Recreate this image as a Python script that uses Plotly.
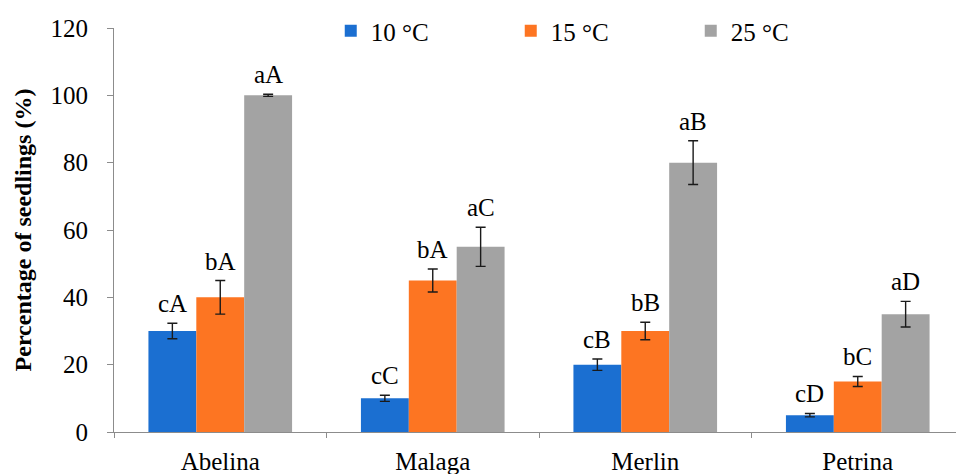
import plotly.graph_objects as go

cultivars = ["Abelina", "Malaga", "Merlin", "Petrina"]
series_names = ["10 °C", "15 °C", "25 °C"]
values_10 = [30, 10, 20, 5]
values_15 = [40, 45, 30, 15]
values_25 = [100, 55, 80, 35]
errors_10 = [2.3, 0.9, 1.7, 0.5]
errors_15 = [5.0, 3.4, 2.6, 1.5]
errors_25 = [0.3, 5.8, 6.5, 3.8]
labels_10 = ["cA", "cC", "cB", "cD"]
labels_15 = ["bA", "bA", "bB", "bC"]
labels_25 = ["aA", "aC", "aB", "aD"]
y_ticks = [0, 20, 40, 60, 80, 100, 120]

colors = ["#1b6fd1", "#fd7522", "#a3a3a3"]
FONT = "Liberation Serif, Times New Roman, serif"
FS = 25
BARGAP = 0.324

all_vals = [values_10, values_15, values_25]
all_errs = [errors_10, errors_15, errors_25]
all_labels = [labels_10, labels_15, labels_25]

fig = go.Figure()
for name, vals, errs, col in zip(series_names, all_vals, all_errs, colors):
    fig.add_trace(go.Bar(
        x=cultivars, y=vals, name=name,
        marker=dict(color=col, line=dict(width=0)),
        error_y=dict(type="data", array=errs, visible=True,
                     color="#1a1a1a", thickness=1.4, width=5),
    ))

bw = (1 - BARGAP) / 3
for k, (vals, errs, labs) in enumerate(zip(all_vals, all_errs, all_labels)):
    for i, (v, e, t) in enumerate(zip(vals, errs, labs)):
        fig.add_annotation(
            x=i + (k - 1) * bw, y=v + e, xref="x", yref="y",
            text=t, showarrow=False, yanchor="bottom", yshift=4,
            font=dict(family=FONT, size=FS, color="#000000"),
        )

fig.update_layout(
    width=956, height=466,
    margin=dict(l=106, r=0, t=13, b=42),
    paper_bgcolor="white", plot_bgcolor="white",
    barmode="group", bargap=BARGAP, bargroupgap=0,
    font=dict(family=FONT, size=FS, color="#000000"),
    showlegend=True,
    legend=dict(orientation="h", x=0.255, xanchor="left", y=1.05, yanchor="top",
                entrywidth=135, entrywidthmode="pixels",
                font=dict(family=FONT, size=FS, color="#000000"),
                bgcolor="rgba(0,0,0,0)", itemclick=False),
    xaxis=dict(
        range=[-0.5, 3.5], showline=True, linecolor="#8c8c8c", linewidth=1,
        ticks="outside", tickson="boundaries", ticklen=5, tickcolor="#8c8c8c",
        showgrid=False, zeroline=False, automargin=False, ticklabelstandoff=7,
        tickfont=dict(family=FONT, size=FS, color="#000000"),
    ),
    yaxis=dict(
        range=[0, 120], tickvals=y_ticks, showline=True, linecolor="#8c8c8c",
        linewidth=1, ticks="outside", ticklen=6, tickcolor="#8c8c8c",
        showgrid=False, zeroline=False, automargin=False, ticklabelstandoff=14,
        tickfont=dict(family=FONT, size=FS, color="#000000"),
        title=dict(text="<b>Percentage of seedlings (%)</b>",
                   font=dict(family=FONT, size=24, color="#000000"), standoff=12),
    ),
)

fig.write_html("out.html")
